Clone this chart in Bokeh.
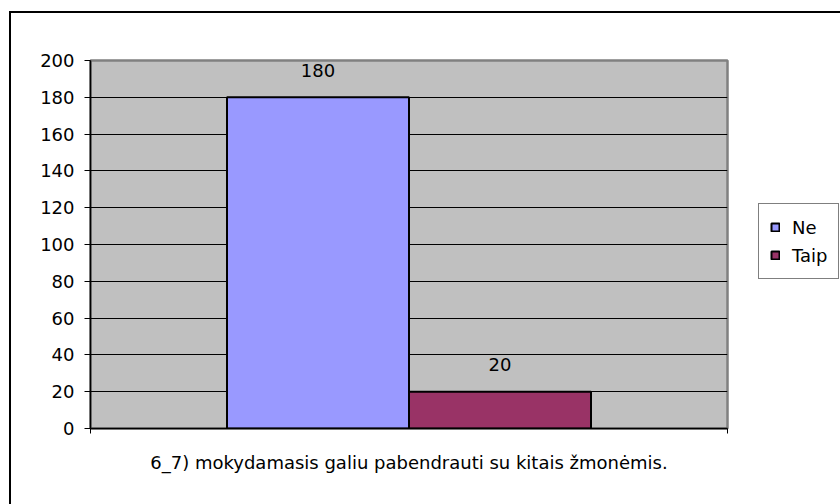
from bokeh.plotting import figure
from bokeh.models import (Range1d, LinearAxis, FixedTicker, ColumnDataSource,
                          LabelSet, Legend, LegendItem)
from bokeh.core.properties import value
from bokeh.embed import file_html
from bokeh.resources import INLINE

# ---- data ----
categories = ["6_7) mokydamasis galiu pabendrauti su kitais žmonėmis."]
series = ["Ne", "Taip"]
values = [180, 20]
colors = ["#9999FF", "#993366"]
y_ticks = [0, 20, 40, 60, 80, 100, 120, 140, 160, 180, 200]

FONT = "DejaVu Sans"
FS = "18px"
GAP = 0.75  # half of Excel's 150% gap width, in bar widths

xpos = [i + 0.5 for i in range(len(series))]
src = ColumnDataSource(dict(x=xpos, series=series, values=values, colors=colors,
                            labels=[str(v) for v in values]))

x_range = Range1d(-GAP, len(series) + GAP)
p = figure(frame_width=637, frame_height=368,
           x_range=x_range, y_range=Range1d(0, 200),
           output_backend="svg", toolbar_location=None, x_axis_location=None,
           min_border_left=90, min_border_right=113, min_border_top=60, min_border_bottom=76)

p.background_fill_color = "#C0C0C0"
p.border_fill_color = None
p.outline_line_color = "#808080"
p.outline_line_width = 2.5
# outer chart border (left and top edges; right/bottom fall outside the view)
p.styles = {"box-shadow": "inset 9px 0 0 0 white, inset 0 11px 0 0 white, "
                          "inset 11px 0 0 0 black, inset 0 13px 0 0 black",
            "background-color": "white"}

# bars
bars = p.vbar(x="x", top="values", width=1, source=src, fill_color="colors",
              line_color="black", line_width=2)

# y axis
ya = p.yaxis[0]
ya.ticker = FixedTicker(ticks=y_ticks)
ya.major_tick_in = 0
ya.major_tick_out = 6
ya.minor_tick_line_color = None
ya.axis_line_color = "black"
ya.axis_line_width = 1.5
ya.major_tick_line_color = "black"
ya.major_label_standoff = 10
ya.major_label_text_font = FONT
ya.major_label_text_font_size = FS
ya.major_label_text_color = "black"

p.xgrid.visible = False
p.ygrid.grid_line_color = "black"
p.ygrid.grid_line_width = 1

# bottom axis with category-boundary ticks and category label
xa = LinearAxis(ticker=FixedTicker(ticks=[x_range.start, x_range.end]),
                axis_label=categories[0])
xa.major_label_overrides = {x_range.start: "", x_range.end: ""}
xa.major_tick_in = 0
xa.major_tick_out = 5
xa.minor_tick_line_color = None
xa.axis_line_color = "black"
xa.axis_line_width = 1.5
xa.major_label_text_font_size = "1px"
xa.axis_label_text_font = FONT
xa.axis_label_text_font_size = FS
xa.axis_label_text_font_style = "normal"
xa.axis_label_text_color = "black"
xa.axis_label_standoff = 18
p.add_layout(xa, "below")

# data labels
labels = LabelSet(x="x", y="values", text="labels", source=src, y_offset=27,
                  text_align="center", text_baseline="middle",
                  text_font=value(FONT), text_font_size=FS, text_color="black")
p.add_layout(labels)

# legend
legend = Legend(items=[LegendItem(label=s, renderers=[bars], index=i) for i, s in enumerate(series)],
                location=(31, 149))
legend.border_line_color = "black"
legend.border_line_width = 1
legend.background_fill_color = "white"
legend.background_fill_alpha = 1
legend.padding = 11
legend.margin = 0
legend.spacing = 4
legend.glyph_width = 10
legend.glyph_height = 10
legend.label_standoff = 12
legend.label_height = 24
legend.label_width = 35
legend.label_text_font = FONT
legend.label_text_font_size = FS
legend.label_text_color = "black"
p.add_layout(legend, "right")

open("out.html", "w").write(file_html(p, INLINE))
